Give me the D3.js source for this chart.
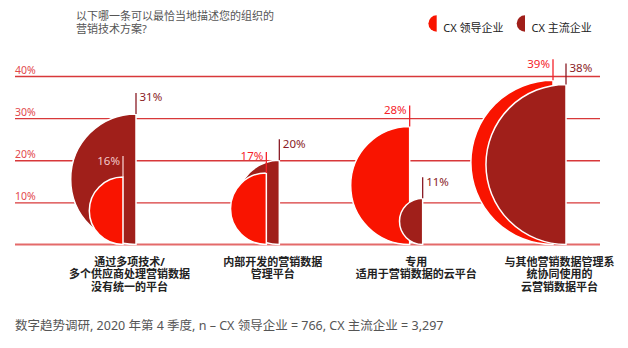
<!DOCTYPE html>
<html>
<head>
<meta charset="utf-8">
<script src="https://cdn.jsdelivr.net/npm/d3@7"></script>
<style>
  body { margin: 0; background: #fff; }
  svg { display: block; font-family: "Noto Sans", "Noto Sans CJK SC", sans-serif; }
</style>
</head>
<body>
<svg id="chart" width="628" height="348"></svg>
<script>
// chart data
var categories = [
  ["通过多项技术/", "多个供应商处理营销数据", "没有统一的平台"],
  ["内部开发的营销数据", "管理平台"],
  ["专用", "适用于营销数据的云平台"],
  ["与其他营销数据管理系", "统协同使用的", "云营销数据平台"]
];
var leaders = [16, 17, 28, 39];
var mainstream = [31, 20, 11, 38];
var yTicks = [10, 20, 30, 40];
var seriesNames = ["CX 领导企业", "CX 主流企业"];
var titleLines = ["以下哪一条可以最恰当地描述您的组织的", "营销技术方案?"];
var footnote = "数字趋势调研, 2020 年第 4 季度, n – CX 领导企业 = 766, CX 主流企业 = 3,297";

var colors = ["#f91400", "#a01f1a"];
var labelColors = ["#f5222a", "#8a1c26"];

var svg = d3.select("#chart");

var x = d3.scalePoint()
  .domain(d3.range(categories.length))
  .range([129.5, 559.5]);
var y = d3.scaleLinear()
  .domain([0, 40])
  .range([244.5, 76]);

// half circle: flat side at xe, sitting on the baseline, diameter = value
function halfCircle(xe, v) {
  var r = (y(0) - y(v)) / 2;
  return "M" + xe + "," + y(0) + " A" + r + "," + r + " 0 0 1 " + xe + "," + y(v) + " Z";
}

// is point (px,py) inside the half circle of d?
function insideHalf(d, px, py) {
  var r = (y(0) - y(d.v)) / 2;
  var cy = y(0) - r;
  return px <= d.xe && Math.hypot(px - d.xe, py - cy) < r;
}

// title
svg.append("g").selectAll("text")
  .data(titleLines)
  .enter().append("text")
  .attr("x", 76)
  .attr("y", function(d, i) { return 20 + i * 12.5; })
  .attr("font-size", "11px")
  .attr("fill", "#555")
  .text(function(d) { return d; });

// legend
var legendX = [436.7, 525];
seriesNames.forEach(function(name, i) {
  var g = svg.append("g");
  var r = 8.3;
  g.append("path")
    .attr("d", "M" + legendX[i] + "," + (23.5 + r) + " A" + r + "," + r + " 0 0 1 " + legendX[i] + "," + (23.5 - r) + " Z")
    .attr("fill", colors[i]);
  g.append("text")
    .attr("x", legendX[i] + 6.5)
    .attr("y", 32)
    .attr("font-size", "11px")
    .attr("fill", "#222")
    .text(name);
});

// gridlines via axis
var grid = svg.append("g")
  .attr("transform", "translate(15,0)")
  .call(d3.axisLeft(y).tickValues(yTicks).tickSize(-585).tickFormat(function(d) { return d + "%"; }));
grid.select(".domain").remove();
grid.selectAll(".tick line")
  .attr("stroke", "#d8383a")
  .attr("stroke-width", 1.4);
grid.selectAll(".tick text")
  .attr("x", 0)
  .attr("y", -3)
  .attr("dy", 0)
  .attr("text-anchor", "start")
  .attr("font-size", "10.5px")
  .attr("font-family", "'Noto Sans', sans-serif")
  .attr("fill", "#e2484c");

// baseline
svg.append("line")
  .attr("x1", 15).attr("x2", 600)
  .attr("y1", y(0)).attr("y2", y(0))
  .attr("stroke", "#e46a6a")
  .attr("stroke-width", 2);

// half circles
var lineLen = 21;
categories.forEach(function(cat, i) {
  var items = [
    { s: 0, v: leaders[i], xe: x(i) - 6.5 },
    { s: 1, v: mainstream[i], xe: x(i) + 6.5 }
  ];
  var g = svg.append("g");
  items.slice().sort(function(a, b) { return b.v - a.v; }).forEach(function(d) {
    g.append("path")
      .attr("d", halfCircle(d.xe, d.v))
      .attr("fill", colors[d.s])
      .attr("stroke", "#fff")
      .attr("stroke-width", 1.5);
  });
  items.forEach(function(d, k) {
    var other = items[1 - k];
    var top = y(d.v) - lineLen;
    var inside = other.v > d.v && insideHalf(other, d.xe - 10, top + 4);
    var c = inside ? "#f3c9c9" : labelColors[d.s];
    g.append("line")
      .attr("x1", d.xe).attr("x2", d.xe)
      .attr("y1", top).attr("y2", y(d.v))
      .attr("stroke", c)
      .attr("stroke-width", 1.3);
    g.append("text")
      .attr("x", d.s === 0 ? d.xe - 3 : d.xe + 3.5)
      .attr("y", top + 8.5)
      .attr("text-anchor", d.s === 0 ? "end" : "start")
      .attr("font-size", "11.5px")
      .attr("fill", c)
      .text(d.v + "%");
  });
});

// category labels
categories.forEach(function(cat, i) {
  svg.append("g").selectAll("text")
    .data(cat)
    .enter().append("text")
    .attr("x", x(i))
    .attr("y", function(d, k) { return 265.5 + k * 12.8; })
    .attr("text-anchor", "middle")
    .attr("font-size", "11px")
    .attr("font-weight", 700)
    .attr("fill", "#222")
    .text(function(d) { return d; });
});

// footnote
svg.append("text")
  .attr("x", 15)
  .attr("y", 330)
  .attr("font-size", "12.5px")
  .attr("fill", "#555")
  .text(footnote);
</script>
</body>
</html>
